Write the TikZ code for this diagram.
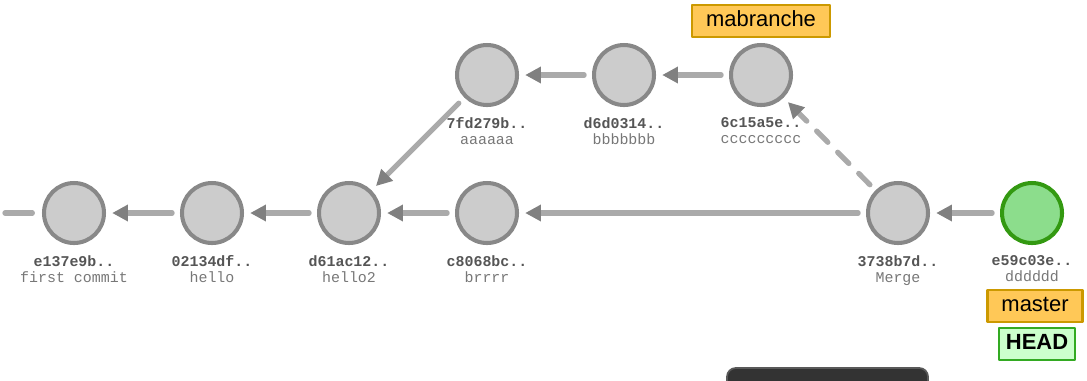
\documentclass[tikz,border=0pt]{standalone}
\usepackage{fontspec}
\setmainfont{Liberation Sans}
\setmonofont{Liberation Mono}
\usetikzlibrary{arrows.meta}
\definecolor{cfill}{HTML}{CCCCCC}
\definecolor{cline}{HTML}{888888}
\definecolor{eline}{HTML}{AAAAAA}
\definecolor{etip}{HTML}{808080}
\definecolor{hfill}{HTML}{8CDD8C}
\definecolor{hline}{HTML}{339911}
\definecolor{bfill}{HTML}{FFC857}
\definecolor{bline}{HTML}{CC9900}
\definecolor{headfill}{HTML}{CCFFCC}
\definecolor{headline}{HTML}{33AA22}
\definecolor{hashcol}{HTML}{555555}
\definecolor{msgcol}{HTML}{777777}
\begin{document}
\begin{tikzpicture}[x=0.02cm, y=-0.02cm, font=\footnotesize, line cap=round, line join=round, >=stealth,
  commit/.style={circle, draw=cline, fill=cfill, line width=2.3pt, minimum size=1.2cm, inner sep=0pt},
  headcommit/.style={commit, draw=hline, fill=hfill},
  msg/.style={anchor=north, align=center, font=\ttfamily\fontsize{8.5}{9.3}\selectfont, text=msgcol, inner sep=0pt},
  edge/.style={draw=eline, line width=3pt, shorten <=4.5pt, shorten >=3.5pt,
    -{Triangle[length=9pt, width=9pt, color=etip]}},
  branch/.style={draw=bline, fill=bfill, line width=1.3pt, font=\fontsize{12.5}{14}\selectfont,
    inner xsep=8pt, minimum height=18.5pt, text height=9pt, text depth=2.5pt},
  headbox/.style={branch, draw=headline, fill=headfill, inner xsep=4pt, font=\fontsize{12.5}{14}\selectfont\bfseries}]
\useasboundingbox (0,0) rectangle (1087,380);

\foreach \name/\x/\y/\hash/\txt in {e137/74/213/e137e9b../first commit, a0213/212/213/02134df../hello,
  d61/349/213/d61ac12../hello2, c80/487/213/c8068bc../brrrr, a3738/898/213/3738b7d../Merge,
  f7fd/487/75/7fd279b../aaaaaa, d6d/624/75/d6d0314../bbbbbbb, c6c/761/75/6c15a5e../ccccccccc}{
  \node[commit] (\name) at (\x,\y) {};
  \node[msg] (\name-lbl) at (\x,\y+42) {\textcolor{hashcol}{\textbf{\hash}}\\\txt};
}
\node[headcommit] (e59) at (1032,213) {};
\node[msg] (e59-lbl) at (1032,255) {\textcolor{hashcol}{\textbf{e59c03e..}}\\dddddd};

\coordinate (stub) at (5,213);
\draw[draw=eline, line width=3pt, shorten <=5.5pt] (e137) -- (stub);
\draw[edge] (a0213) -- (e137);
\draw[edge] (d61) -- (a0213);
\draw[edge] (c80) -- (d61);
\draw[edge] (a3738) -- (c80);
\draw[edge] (e59) -- (a3738);
\draw[edge] (f7fd) -- (d61);
\draw[edge] (d6d) -- (f7fd);
\draw[edge] (c6c) -- (d6d);
\draw[edge, dash pattern=on 9pt off 8pt] (a3738) -- (c6c);

\node[branch] (mabranche) at (761,21) {mabranche};
\node[branch] (master) at (1035,306) {master};
\node[headbox] (head) at (1037,344) {HEAD};

\fill[fill=black!80, draw=black!65, line width=1pt, rounded corners=5pt] (727,368) rectangle (928,400);
\end{tikzpicture}
\end{document}
